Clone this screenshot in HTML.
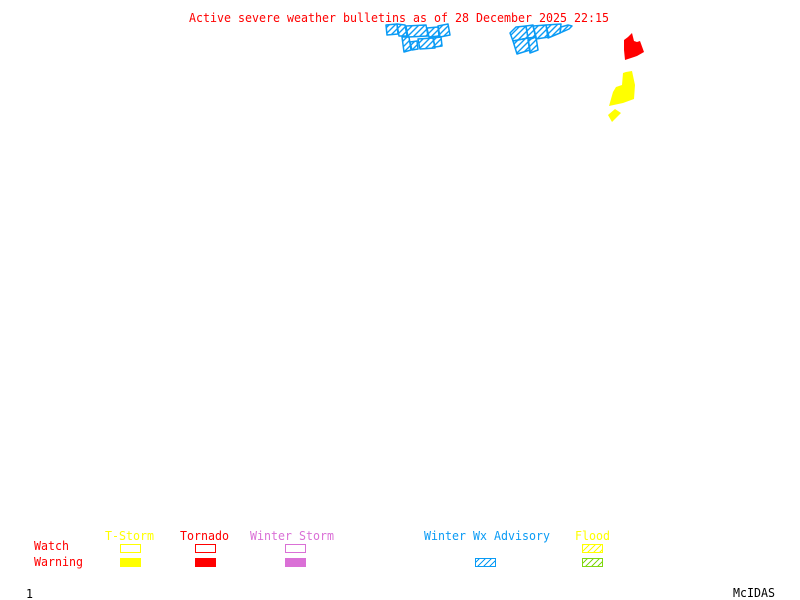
<!DOCTYPE html>
<html>
<head>
<meta charset="utf-8">
<style>
html,body{margin:0;padding:0;background:#fff;width:800px;height:600px;overflow:hidden}
svg{display:block}
text{font-family:"DejaVu Sans Mono","Liberation Mono",monospace;font-size:12.6px;}
</style>
</head>
<body>
<svg width="800" height="600" viewBox="0 0 800 600" xmlns="http://www.w3.org/2000/svg">
<defs>
<pattern id="hm" width="6" height="6" patternUnits="userSpaceOnUse"><path d="M-1 7L7 -1M-1 1L1 -1M5 7L7 5" stroke="#0a9bf5" stroke-width="1.4"/></pattern>
<pattern id="hb" width="6" height="6" patternUnits="userSpaceOnUse"><path d="M-1 7L7 -1M-1 1L1 -1M5 7L7 5" stroke="#0a9bf5" stroke-width="1" shape-rendering="crispEdges"/></pattern>
<pattern id="hy" width="6" height="6" patternUnits="userSpaceOnUse"><path d="M-1 7L7 -1M-1 1L1 -1M5 7L7 5" stroke="#ffff00" stroke-width="1" shape-rendering="crispEdges"/></pattern>
<pattern id="hg" width="6" height="6" patternUnits="userSpaceOnUse"><path d="M-1 7L7 -1M-1 1L1 -1M5 7L7 5" stroke="#7fd810" stroke-width="1" shape-rendering="crispEdges"/></pattern>
</defs>
<rect width="800" height="600" fill="#fff"/>
<text x="189" y="22" fill="#ff0000" textLength="420" lengthAdjust="spacingAndGlyphs">Active severe weather bulletins as of 28 December 2025 22:15</text>

<g fill="url(#hm)" stroke="#0a9bf5" stroke-width="1.5" stroke-linejoin="round">
<polygon points="386,25 397,24 398,34 387,35"/>
<polygon points="397,24 405,25 407,36 399,36"/>
<polygon points="406,26 426,25 428,36 408,37"/>
<polygon points="427,28 438,27 439,36 429,37"/>
<polygon points="438,26 448,24 450,35 440,37"/>
<polygon points="402,37 409,37 411,50 404,52"/>
<polygon points="410,42 417,41 418,49 412,50"/>
<polygon points="418,39 433,38 435,48 420,49"/>
<polygon points="433,38 441,37 442,46 435,47"/>
<polygon points="510,33 516,27 526,26 528,38 513,41"/>
<polygon points="513,41 528,38 530,50 517,54"/>
<polygon points="526,26 533,25 536,37 528,38"/>
<polygon points="528,40 536,37 538,50 530,53"/>
<polygon points="533,26 546,25 549,37 536,39"/>
<polygon points="546,25 561,24 560,33 548,38"/>
<polygon points="561,27 568,25 572,26 569,29 560,33"/>
</g>

<polygon points="624,40 628,37 632,33 634,41 637,42 640,41 644,52 637,56 625,60 624,50" fill="#ff0000"/>
<polygon points="623,73 626,72 632,71 635,85 634,99 623,103 609,106 613,92 616,87 622,85" fill="#ffff00"/>
<polygon points="608,115 615,109 621,113 612,122" fill="#ffff00"/>

<text x="105" y="540" fill="#ffff00" textLength="49" lengthAdjust="spacingAndGlyphs">T-Storm</text>
<text x="180" y="540" fill="#ff0000" textLength="49" lengthAdjust="spacingAndGlyphs">Tornado</text>
<text x="250" y="540" fill="#da70d6" textLength="84" lengthAdjust="spacingAndGlyphs">Winter Storm</text>
<text x="424" y="540" fill="#0a9bf5" textLength="126" lengthAdjust="spacingAndGlyphs">Winter Wx Advisory</text>
<text x="575" y="540" fill="#ffff00" textLength="35" lengthAdjust="spacingAndGlyphs">Flood</text>
<text x="34" y="550" fill="#ff0000" textLength="35" lengthAdjust="spacingAndGlyphs">Watch</text>
<text x="34" y="566" fill="#ff0000" textLength="49" lengthAdjust="spacingAndGlyphs">Warning</text>

<g shape-rendering="crispEdges" stroke-width="1">
<rect x="120.5" y="544.5" width="20" height="8" fill="none" stroke="#ffff00"/>
<rect x="195.5" y="544.5" width="20" height="8" fill="none" stroke="#ff0000"/>
<rect x="285.5" y="544.5" width="20" height="8" fill="none" stroke="#da70d6"/>
<rect x="582.5" y="544.5" width="20" height="8" fill="url(#hy)" stroke="#ffff00"/>
<rect x="120" y="558" width="21" height="9" fill="#ffff00"/>
<rect x="195" y="558" width="21" height="9" fill="#ff0000"/>
<rect x="285" y="558" width="21" height="9" fill="#da70d6"/>
<rect x="475.5" y="558.5" width="20" height="8" fill="url(#hb)" stroke="#0a9bf5"/>
<rect x="582.5" y="558.5" width="20" height="8" fill="url(#hg)" stroke="#7fd810"/>
</g>

<text x="26" y="598" fill="#000" textLength="7" lengthAdjust="spacingAndGlyphs">1</text>
<text x="733" y="597" fill="#000" textLength="42" lengthAdjust="spacingAndGlyphs">McIDAS</text>
</svg>
</body>
</html>
